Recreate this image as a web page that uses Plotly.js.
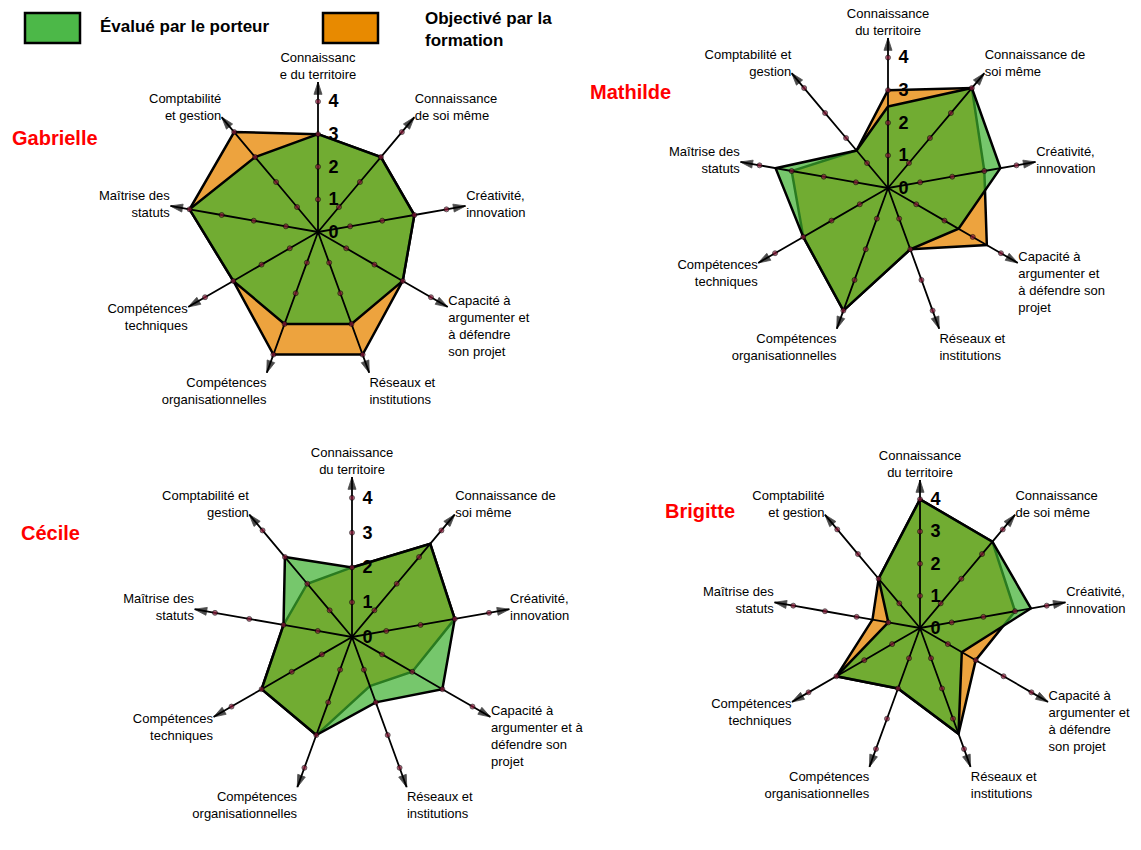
<!DOCTYPE html>
<html><head><meta charset="utf-8">
<script src="https://cdn.plot.ly/plotly-3.0.1.min.js"></script>
<style>html,body{margin:0;padding:0;background:#fff}#chart{width:1141px;height:850px}</style>
</head><body><div id="chart"></div>
<script>
const categories = ["Connaissance du territoire","Connaissance de soi même","Créativité, innovation","Capacité à argumenter et à défendre son projet","Réseaux et institutions","Compétences organisationnelles","Compétences techniques","Maîtrise des statuts","Comptabilité et gestion"];

const gabrielleLabels = ["Connaissanc<br>e du territoire","Connaissance<br>de soi même","Créativité,<br>innovation","Capacité à<br>argumenter et<br>à défendre<br>son projet","Réseaux et<br>institutions","Compétences<br>organisationnelles","Compétences<br>techniques","Maîtrise des<br>statuts","Comptabilité<br>et gestion"];
const mathildeLabels = ["Connaissance<br>du territoire","Connaissance de<br>soi même","Créativité,<br>innovation","Capacité à<br>argumenter et<br>à défendre son<br>projet","Réseaux et<br>institutions","Compétences<br>organisationnelles","Compétences<br>techniques","Maîtrise des<br>statuts","Comptabilité et<br>gestion"];
const cecileLabels = ["Connaissance<br>du territoire","Connaissance de<br>soi même","Créativité,<br>innovation","Capacité à<br>argumenter et à<br>défendre son<br>projet","Réseaux et<br>institutions","Compétences<br>organisationnelles","Compétences<br>techniques","Maîtrise des<br>statuts","Comptabilité et<br>gestion"];
const brigitteLabels = ["Connaissance<br>du territoire","Connaissance<br>de soi même","Créativité,<br>innovation","Capacité à<br>argumenter et<br>à défendre<br>son projet","Réseaux et<br>institutions","Compétences<br>organisationnelles","Compétences<br>techniques","Maîtrise des<br>statuts","Comptabilité<br>et gestion"];

const gabrielleEvalue    = [3, 3, 3, 3, 3, 3, 3, 4, 3];
const gabrielleObjective = [3, 3, 3, 3, 4, 4, 3, 4, 4];
const mathildeEvalue     = [2.5, 4, 3.5, 2.5, 2, 4, 3, 3.5, 1.5];
const mathildeObjective  = [3, 4, 3, 3.5, 2, 4, 3, 3, 1.5];
const cecileEvalue       = [2, 3.5, 3, 3, 2, 3, 3, 2, 3];
const cecileObjective    = [2, 3.5, 3, 2, 1.5, 3, 3, 2, 2];
const brigitteEvalue     = [4, 3.5, 3.5, 1.5, 3.5, 2, 3, 1, 2];
const brigitteObjective  = [4, 3.5, 3, 2, 3.5, 2, 3, 1.5, 2];

const personNames = ["Gabrielle", "Mathilde", "Cécile", "Brigitte"];
const seriesNames = ["Évalué par le porteur", "Objectivé par la formation"];
const radialTicks = [0, 1, 2, 3, 4];
const spokeMarks = [1, 2, 3, 4];
const axisMax = 4.6;

const W = 1141, H = 850;
const FONT = "Liberation Sans, Arial, sans-serif";
const GREEN_FILL = "rgba(60,175,45,0.7)";
const ORANGE_FILL = "rgba(234,148,30,0.86)";
const px = x => x / W, py = y => 1 - y / H;
const PAD = "&nbsp;&nbsp;";

const charts = [
  {name: personNames[0], labels: gabrielleLabels, ev: gabrielleEvalue, ob: gabrielleObjective, c: [318, 232], R: 150, title: [55, 138]},
  {name: personNames[1], labels: mathildeLabels, ev: mathildeEvalue, ob: mathildeObjective, c: [888, 188], R: 150, title: [630, 92]},
  {name: personNames[2], labels: cecileLabels, ev: cecileEvalue, ob: cecileObjective, c: [352, 637], R: 160, title: [50, 533]},
  {name: personNames[3], labels: brigitteLabels, ev: brigitteEvalue, ob: brigitteObjective, c: [920, 628], R: 148, title: [700, 511]}
];

const data = [];
const layout = {
  width: W, height: H, margin: {l: 0, r: 0, t: 0, b: 0},
  paper_bgcolor: "#fff", showlegend: false,
  font: {family: FONT, color: "#000"},
  annotations: [], shapes: []
};

charts.forEach((ch, k) => {
  const sp = k === 0 ? "polar" : "polar" + (k + 1);
  const close = arr => arr.concat([arr[0]]);
  data.push({
    type: "scatterpolar", subplot: sp, name: seriesNames[1],
    r: close(ch.ob), theta: close(categories), mode: "lines", fill: "toself",
    fillcolor: ORANGE_FILL, line: {color: "#000", width: 2.5}, hoverinfo: "skip"
  });
  data.push({
    type: "scatterpolar", subplot: sp, name: seriesNames[0],
    r: close(ch.ev), theta: close(categories), mode: "lines", fill: "toself",
    fillcolor: GREEN_FILL, line: {color: "#000", width: 2.5}, hoverinfo: "skip"
  });
  // spokes with unit dots and arrow heads
  const r = [], th = [], sym = [], sz = [], ang = [], col = [];
  categories.forEach((cat, i) => {
    const rr = [0].concat(spokeMarks, [axisMax]);
    rr.forEach((v, j) => {
      r.push(v); th.push(cat);
      const last = j === rr.length - 1;
      sym.push(last ? "arrow" : "circle");
      sz.push(j === 0 ? 0 : (last ? 13 : 5));
      ang.push(i * 360 / categories.length);
      col.push(last ? "#000" : "#8B1A3A");
    });
    r.push(null); th.push(null); sym.push("circle"); sz.push(0); ang.push(0); col.push("#000");
  });
  data.push({
    type: "scatterpolar", subplot: sp, r: r, theta: th, mode: "lines+markers",
    line: {color: "#000", width: 1.8}, connectgaps: false, hoverinfo: "skip", showlegend: false,
    marker: {symbol: sym, size: sz, angle: ang, color: col, line: {color: "#000", width: 0.8}}
  });

  const [cx, cy] = ch.c, R = ch.R;
  layout[sp] = {
    domain: {x: [px(cx - R), px(cx + R)], y: [py(cy + R), py(cy - R)]},
    bgcolor: "rgba(0,0,0,0)",
    angularaxis: {
      type: "category", categoryarray: categories, rotation: 90, direction: "clockwise",
      showgrid: false, showline: false, ticks: "",
      tickmode: "array", tickvals: categories, ticktext: ch.labels,
      tickfont: {family: FONT, size: 13, color: "#000"}
    },
    radialaxis: {
      range: [0, axisMax], angle: 90, showgrid: false, showline: false, ticks: "",
      tickmode: "array", tickvals: radialTicks, ticktext: radialTicks.map(v => PAD + "<b>" + v + "</b>"),
      tickfont: {family: FONT, size: 18, color: "#000"}, tickangle: 90, side: "clockwise"
    }
  };
  layout.annotations.push({
    xref: "paper", yref: "paper", x: px(ch.title[0]), y: py(ch.title[1]),
    text: "<b>" + ch.name + "</b>", showarrow: false, xanchor: "center", yanchor: "middle",
    font: {family: FONT, size: 20, color: "#FF0000"}
  });
});

// legend
layout.shapes.push({type: "rect", xref: "paper", yref: "paper", x0: px(25), x1: px(80), y0: py(43), y1: py(13),
  fillcolor: "#4CB848", line: {color: "#000", width: 2.5}});
layout.shapes.push({type: "rect", xref: "paper", yref: "paper", x0: px(323), x1: px(378), y0: py(43), y1: py(13),
  fillcolor: "#E88A00", line: {color: "#000", width: 2.5}});
layout.annotations.push({xref: "paper", yref: "paper", x: px(98), y: py(27), xanchor: "left", yanchor: "middle",
  showarrow: false, text: "<b>" + seriesNames[0] + "</b>", font: {family: FONT, size: 17, color: "#000"}});
layout.annotations.push({xref: "paper", yref: "paper", x: px(423), y: py(30), xanchor: "left", yanchor: "middle", align: "left",
  showarrow: false, text: "<b>Objectivé par la<br>formation</b>", font: {family: FONT, size: 17, color: "#000"}});

Plotly.newPlot("chart", data, layout, {displayModeBar: false, staticPlot: true});
</script></body></html>
